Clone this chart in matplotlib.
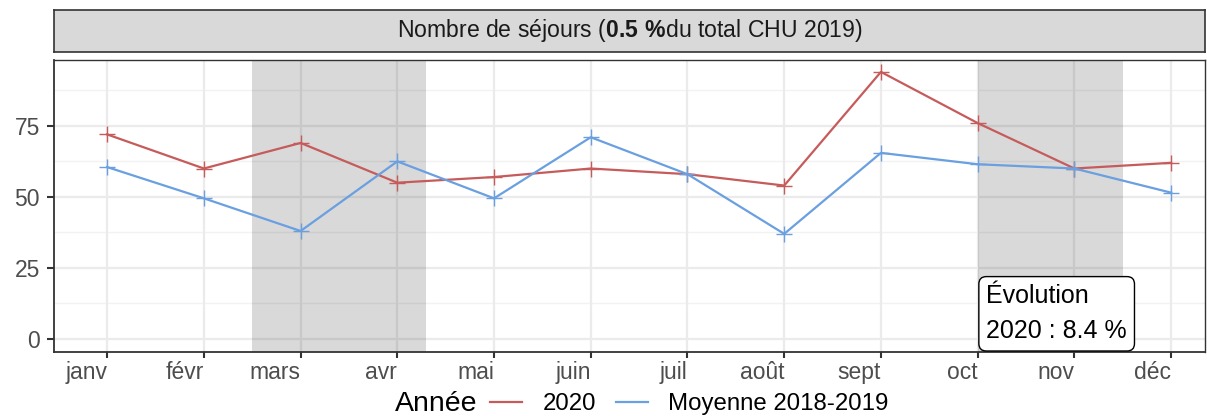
import matplotlib
matplotlib.use("Agg")
from matplotlib import pyplot as plt
from matplotlib.lines import Line2D

plt.rcParams.update({"font.family": "Liberation Sans"})
plt.rcParams.update({"mathtext.fontset": "custom"})
plt.rcParams.update({"mathtext.rm": "Liberation Sans"})
plt.rcParams.update({"mathtext.bf": "Liberation Sans:bold"})

months = ["janv", "févr", "mars", "avr", "mai", "juin",
          "juil", "août", "sept", "oct", "nov", "déc"]
sejours_2020 = [72, 60, 69, 55, 57, 60, 58, 54, 94, 76, 60, 62]
moyenne_2018_2019 = [60.5, 49.5, 38, 62.5, 49.5, 71, 58, 37, 65.5, 61.5, 60, 51.5]
confinements = [(2.5, 4.3), (10.0, 11.5)]
yticks = [0, 25, 50, 75]

red = "#C65B5B"
blue = "#6A9FE0"
x = list(range(1, len(months) + 1))

fig = plt.figure(figsize=(12.07, 4.16), dpi=100)
ax = fig.add_axes([0.0447, 0.1538, 0.9536, 0.702])

# grille façon theme_bw
for yv in [12.5, 37.5, 62.5, 87.5]:
    ax.axhline(yv, color="#F2F2F2", lw=1.0, zorder=0)
for yv in yticks:
    ax.axhline(yv, color="#EBEBEB", lw=1.6, zorder=0)
for xv in x:
    ax.axvline(xv, color="#EBEBEB", lw=1.6, zorder=0)

for a, b in confinements:
    ax.axvspan(a, b, color="black", alpha=0.15, lw=0, zorder=1)

ax.plot(x, sejours_2020, color=red, lw=1.6, marker="+", markersize=12,
        mew=1.0, zorder=3, label="2020")
ax.plot(x, moyenne_2018_2019, color=blue, lw=1.6, marker="+", markersize=12,
        mew=1.0, zorder=3, label="Moyenne 2018-2019")

ax.set_xlim(0.45, 12.35)
ax.set_ylim(-4.6, 98.2)
ax.set_xticks(x)
ax.set_xticklabels(months, ha="right")
ax.set_yticks(yticks)
ax.tick_params(axis="both", labelsize=16.5, labelcolor="#4D4D4D", color="#333333",
               width=1.5)
ax.tick_params(axis="x", length=4.3, pad=2.5)
ax.tick_params(axis="y", length=5, pad=5)
for s in ["top", "right"]:
    ax.spines[s].set_color("#333333")
    ax.spines[s].set_linewidth(1.0)
for s in ["left", "bottom"]:
    ax.spines[s].set_color("#333333")
    ax.spines[s].set_linewidth(1.3)

ax.text(10.09, -1.6, "Évolution\n2020 : 8.4 %", fontsize=18, ha="left", va="bottom",
        linespacing=1.6, zorder=5,
        bbox=dict(boxstyle="round,pad=0.3,rounding_size=0.3", fc="white",
                  ec="black", lw=1.0))

# bandeau du facet
strip = fig.add_axes([0.0447, 0.875, 0.9536, 0.101])
strip.set_xticks([])
strip.set_yticks([])
strip.set_facecolor("#D9D9D9")
for s in strip.spines.values():
    s.set_color("#333333")
    s.set_linewidth(1.2)
strip.text(0.5, 0.5, r"Nombre de séjours ($\mathbf{0.5\ \%}$du total CHU 2019)",
           ha="center", va="center", fontsize=16.6, color="#1A1A1A",
           transform=strip.transAxes)

fig.text(477 / 1207, 0.029, "Année", fontsize=20.5, ha="right", va="center")
fig.legend(handles=[Line2D([], [], color=red, lw=1.6),
                    Line2D([], [], color=blue, lw=1.6)],
           labels=["2020", "Moyenne 2018-2019"],
           loc="center left", bbox_to_anchor=(490 / 1207, 0.029), ncol=2,
           frameon=False, borderpad=0, borderaxespad=0,
           fontsize=17.3, handlelength=1.35, columnspacing=0.8, handletextpad=0.85)

fig.savefig("out.png", dpi=100)
